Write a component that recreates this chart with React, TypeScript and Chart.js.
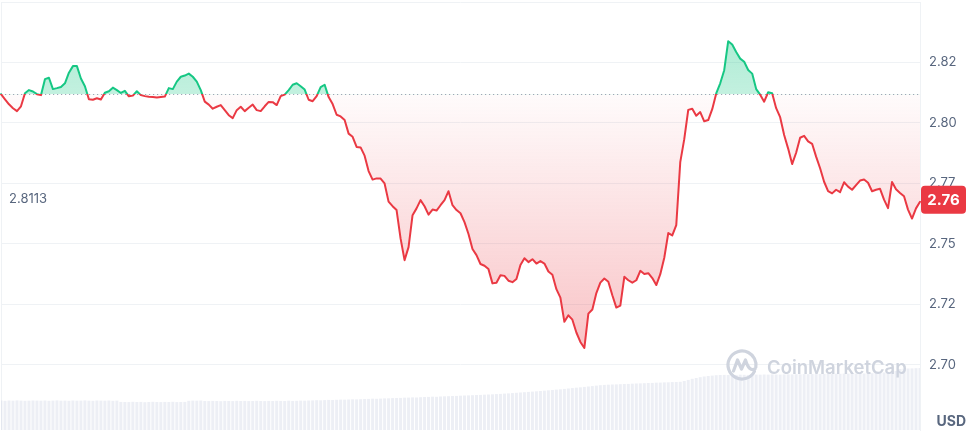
import React, { useEffect, useRef } from "react";
import { Chart, registerables } from "chart.js";

Chart.register(...registerables);

// Price samples (USD), evenly spaced in time
const PRICES: number[] = [
  2.8069, 2.8048, 2.8027, 2.8011, 2.7999, 2.8019, 2.8073, 2.8086, 2.808, 2.8069,
  2.8065, 2.8131, 2.8137, 2.809, 2.8094, 2.8099, 2.8114, 2.8158, 2.8185, 2.8185,
  2.8134, 2.8102, 2.8048, 2.8046, 2.8052, 2.8047, 2.8075, 2.8081, 2.8096, 2.8086,
  2.8074, 2.8083, 2.806, 2.8063, 2.8081, 2.8065, 2.8061, 2.8058, 2.8057, 2.8055,
  2.8057, 2.8059, 2.8094, 2.809, 2.8121, 2.8141, 2.8146, 2.8154, 2.8141, 2.8121,
  2.8086, 2.8038, 2.8026, 2.8009, 2.8017, 2.8024, 2.8003, 2.7982, 2.797, 2.8003,
  2.8017, 2.7999, 2.8013, 2.8026, 2.8003, 2.7999, 2.8019, 2.8037, 2.8036, 2.8024,
  2.8061, 2.8067, 2.8086, 2.8108, 2.8114, 2.8102, 2.8088, 2.8046, 2.804, 2.8061,
  2.8098, 2.8108, 2.8057, 2.8028, 2.7984, 2.7977, 2.7962, 2.7906, 2.7893, 2.7851,
  2.7849, 2.7815, 2.7751, 2.7716, 2.7721, 2.772, 2.77, 2.7625, 2.7606, 2.759,
  2.7473, 2.7383, 2.7437, 2.7569, 2.7597, 2.7631, 2.7606, 2.7571, 2.7592, 2.7588,
  2.761, 2.7631, 2.7668, 2.761, 2.759, 2.7577, 2.754, 2.7491, 2.7429, 2.7404,
  2.7367, 2.736, 2.7346, 2.7287, 2.729, 2.7321, 2.7318, 2.7298, 2.7292, 2.7305,
  2.7363, 2.7391, 2.7375, 2.7387, 2.7369, 2.7379, 2.7369, 2.7336, 2.7323, 2.7263,
  2.7228, 2.7128, 2.7155, 2.7137, 2.7084, 2.7045, 2.702, 2.7162, 2.7179, 2.7247,
  2.729, 2.7307, 2.7294, 2.7238, 2.7187, 2.7195, 2.7314, 2.73, 2.729, 2.73,
  2.7339, 2.7326, 2.7329, 2.7309, 2.728, 2.7325, 2.7393, 2.7495, 2.7485, 2.7528,
  2.7788, 2.7883, 2.8004, 2.8009, 2.798, 2.7995, 2.7957, 2.7962, 2.8007, 2.8072,
  2.8114, 2.8168, 2.8288, 2.8274, 2.8243, 2.8216, 2.8203, 2.8169, 2.8154, 2.809,
  2.8067, 2.8038, 2.8077, 2.8073, 2.8011, 2.7974, 2.79, 2.7844, 2.778, 2.7827,
  2.7889, 2.7897, 2.7874, 2.7864, 2.7811, 2.7763, 2.7707, 2.7668, 2.7659, 2.7674,
  2.7664, 2.7705, 2.7687, 2.7674, 2.7693, 2.7712, 2.7716, 2.7703, 2.7668, 2.7674,
  2.7678, 2.7633, 2.7598, 2.7706, 2.7676, 2.7661, 2.7647, 2.7592, 2.7555, 2.7597,
  2.7624,
];

// Volume samples (millions USD)
const VOLUMES: number[] = [
  29.4, 29.2, 29.5, 29.3, 29.6, 29.4, 29.2, 29.3, 29.5, 29.4,
  29.3, 29.5, 29.2, 29.4, 29.6, 29.3, 29.4, 29.2, 29.5, 29.3,
  29.4, 29.6, 29.3, 29.2, 29.5, 29.4, 29.3, 29.5, 29.2, 29.4,
  28.1, 28.0, 27.9, 28.2, 28.0, 28.1, 27.8, 28.0, 28.2, 28.0,
  27.9, 28.1, 28.0, 28.2, 27.9, 28.0, 28.1, 29.2, 29.4, 29.3,
  29.5, 29.0, 28.9, 29.1, 29.0, 28.8, 29.1, 29.0, 28.9, 29.2,
  29.0, 29.1, 28.9, 29.0, 29.2, 29.0, 28.9, 29.1, 29.0, 29.2,
  29.1, 29.0, 29.3, 29.1, 29.2, 29.4, 29.3, 29.5, 29.6, 29.8,
  29.7, 29.9, 30.1, 30.0, 30.2, 30.4, 30.3, 30.5, 30.7, 30.6,
  30.8, 31.0, 31.1, 31.3, 31.2, 31.4, 31.6, 31.7, 31.9, 32.0,
  32.1, 32.3, 32.4, 32.6, 32.5, 32.8, 33.0, 33.1, 33.3, 33.2,
  33.5, 33.7, 33.8, 34.0, 34.1, 34.3, 34.5, 34.6, 34.8, 35.0,
  35.1, 35.3, 35.5, 35.7, 35.9, 36.1, 36.4, 36.6, 36.9, 37.2,
  37.5, 37.8, 38.1, 38.4, 38.7, 39.0, 39.3, 39.7, 40.0, 40.4,
  40.7, 41.1, 41.5, 41.9, 42.3, 42.7, 43.1, 43.5, 43.9, 44.4,
  44.8, 45.1, 45.3, 45.5, 45.6, 45.8, 46.0, 46.1, 46.3, 46.5,
  46.6, 46.8, 47.0, 47.1, 47.3, 47.4, 47.6, 47.7, 47.9, 48.0,
  48.2, 49.0, 50.1, 51.2, 52.0, 52.8, 53.5, 54.0, 54.4, 54.8,
  55.0, 55.1, 55.0, 55.2, 55.1, 55.3, 55.2, 55.1, 55.3, 55.4,
  55.3, 55.5, 55.4, 55.6, 55.5, 55.4, 55.6, 55.7, 55.6, 55.8,
  55.7, 55.9, 55.8, 56.0, 55.9, 56.1, 56.0, 56.2, 56.1, 56.3,
  56.2, 56.4, 56.3, 56.5, 56.4, 56.6, 56.5, 56.7, 56.8, 57.0,
  57.2, 57.5, 57.8, 58.2, 59.0, 61.0, 61.3, 61.5, 61.6, 61.8,
  62.0,
];

const TIME_LABELS: string[] = PRICES.map((_, i) => {
  const mins = i * 6;
  const h = Math.floor(mins / 60) % 24;
  const m = mins % 60;
  return `${String(h).padStart(2, "0")}:${String(m).padStart(2, "0")}`;
});

const TICK_VALUES = [2.695, 2.72, 2.745, 2.77, 2.795, 2.82, 2.845];
const TICK_LABELS = ["2.70", "2.72", "2.75", "2.77", "2.80", "2.82", ""];
const REFERENCE_LABEL = "2.8113";
const CURRENCY = "USD";
const WATERMARK = "CoinMarketCap";
const BASELINE = PRICES[0];

const GREEN = "#16c784";
const RED = "#ea3943";
const TEXT = "#58667e";
const GRID = "#eff2f5";
const FONT = "Inter, 'Noto Sans', sans-serif";

function lineGradient(chart: any) {
  const { chartArea, scales } = chart;
  if (!chartArea || !scales || !scales.y) return RED;
  const yb = scales.y.getPixelForValue(BASELINE);
  const h = chartArea.bottom - chartArea.top;
  const t = Math.min(1, Math.max(0, (yb - chartArea.top) / h));
  const g = chart.ctx.createLinearGradient(0, chartArea.top, 0, chartArea.bottom);
  g.addColorStop(0, GREEN);
  g.addColorStop(t, GREEN);
  g.addColorStop(t, RED);
  g.addColorStop(1, RED);
  return g;
}

function fillOption(ctx: any) {
  const chart = ctx.chart;
  const { chartArea, scales } = chart;
  let above: any = "rgba(22,199,132,0.3)";
  let below: any = "rgba(234,57,67,0.12)";
  if (chartArea && scales && scales.y) {
    const yb = scales.y.getPixelForValue(BASELINE);
    const ymin = scales.y.getPixelForValue(Math.min(...PRICES));
    const ymax = scales.y.getPixelForValue(Math.max(...PRICES));
    const gb = chart.ctx.createLinearGradient(0, yb, 0, ymin);
    gb.addColorStop(0, "rgba(234,57,67,0.02)");
    gb.addColorStop(1, "rgba(234,57,67,0.3)");
    below = gb;
    const ga = chart.ctx.createLinearGradient(0, ymax, 0, yb);
    ga.addColorStop(0, "rgba(22,199,132,0.34)");
    ga.addColorStop(1, "rgba(22,199,132,0.26)");
    above = ga;
  }
  return { target: { value: BASELINE }, above, below };
}

const overlayPlugin = {
  id: "cmcOverlay",
  beforeDatasetsDraw(chart: any) {
    const { ctx, chartArea } = chart;
    ctx.save();
    // left border
    ctx.strokeStyle = GRID;
    ctx.lineWidth = 1;
    ctx.beginPath();
    ctx.moveTo(chartArea.left + 0.5, chartArea.top);
    ctx.lineTo(chartArea.left + 0.5, chartArea.bottom);
    ctx.stroke();
    // watermark
    const cx = chartArea.right - 178;
    const cy = chartArea.bottom - 65;
    const wm = "#cfd4de";
    ctx.strokeStyle = wm;
    ctx.lineWidth = 3.2;
    ctx.lineCap = "round";
    ctx.lineJoin = "round";
    ctx.beginPath();
    ctx.arc(cx, cy, 14, 0.15 * Math.PI, 2.05 * Math.PI);
    ctx.stroke();
    ctx.beginPath();
    ctx.moveTo(cx - 8.5, cy + 6);
    ctx.lineTo(cx - 4.5, cy - 5);
    ctx.lineTo(cx - 0.5, cy + 4);
    ctx.lineTo(cx + 3.5, cy - 5);
    ctx.quadraticCurveTo(cx + 7, cy + 7, cx + 13, cy + 4);
    ctx.stroke();
    ctx.fillStyle = wm;
    ctx.font = `600 18.5px ${FONT}`;
    ctx.textAlign = "left";
    ctx.textBaseline = "alphabetic";
    ctx.fillText(WATERMARK, cx + 25, cy + 9);
    ctx.restore();
  },
  beforeDatasetDraw(chart: any, args: any) {
    if (args.index !== 0) return;
    const { ctx, chartArea, scales } = chart;
    const y = Math.round(scales.y.getPixelForValue(BASELINE)) + 0.5;
    ctx.save();
    ctx.strokeStyle = "#9ea6b6";
    ctx.lineWidth = 1;
    ctx.setLineDash([1.2, 2.8]);
    ctx.beginPath();
    ctx.moveTo(chartArea.left, y);
    ctx.lineTo(chartArea.right, y);
    ctx.stroke();
    ctx.restore();
  },
  afterDraw(chart: any) {
    const { ctx, chartArea, scales, width, height } = chart;
    ctx.save();
    // reference label at left
    ctx.fillStyle = TEXT;
    ctx.font = `13px ${FONT}`;
    ctx.textAlign = "left";
    ctx.textBaseline = "middle";
    ctx.fillText(REFERENCE_LABEL, chartArea.left + 8, 199.5);
    // current price tag
    const last = PRICES[PRICES.length - 1];
    const y = scales.y.getPixelForValue(last) - 2;
    const x0 = chartArea.right + 1;
    const w = 45;
    const h = 28;
    ctx.fillStyle = RED;
    ctx.beginPath();
    if ((ctx as any).roundRect) {
      (ctx as any).roundRect(x0, y - h / 2, w, h, 4);
    } else {
      ctx.rect(x0, y - h / 2, w, h);
    }
    ctx.fill();
    ctx.fillStyle = "#ffffff";
    ctx.font = `bold 15px ${FONT}`;
    ctx.textAlign = "center";
    ctx.textBaseline = "middle";
    ctx.fillText(last.toFixed(2), x0 + w / 2, y + 1);
    // currency
    ctx.fillStyle = TEXT;
    ctx.font = `bold 14px ${FONT}`;
    ctx.textAlign = "right";
    ctx.textBaseline = "middle";
    ctx.fillText(CURRENCY, width - 2, height - 10.5);
    ctx.restore();
  },
};

export default function App() {
  const canvasRef = useRef<HTMLCanvasElement | null>(null);

  useEffect(() => {
    const canvas = canvasRef.current;
    if (!canvas) return;
    const chart = new Chart(canvas, {
      type: "line",
      data: {
        labels: TIME_LABELS,
        datasets: [
          {
            type: "line",
            label: "Price",
            data: PRICES,
            yAxisID: "y",
            borderColor: (ctx: any) => lineGradient(ctx.chart),
            borderWidth: 2,
            pointRadius: 0,
            pointHoverRadius: 0,
            tension: 0,
            borderJoinStyle: "round",
            borderCapStyle: "round",
            fill: fillOption as any,
            order: 1,
          } as any,
          {
            type: "bar",
            label: "Volume",
            data: VOLUMES,
            yAxisID: "yv",
            backgroundColor: "rgba(207,214,228,0.38)",
            borderWidth: 0,
            barPercentage: 0.75,
            categoryPercentage: 1,
            order: 2,
          } as any,
        ],
      },
      options: {
        responsive: true,
        maintainAspectRatio: false,
        animation: false,
        devicePixelRatio: 1,
        layout: { padding: { top: 2, bottom: 2, left: 0, right: 0 } },
        plugins: {
          legend: { display: false },
          tooltip: { enabled: false },
        },
        scales: {
          x: {
            type: "category",
            offset: false,
            display: false,
            grid: { display: false },
          },
          y: {
            position: "right",
            min: 2.6681,
            max: 2.845,
            afterBuildTicks: (scale: any) => {
              scale.ticks = TICK_VALUES.map((v) => ({ value: v }));
            },
            afterFit: (scale: any) => {
              scale.width = 48;
              scale.paddingTop = 0;
              scale.paddingBottom = 0;
            },
            ticks: {
              padding: 9,
              color: TEXT,
              font: { family: FONT, size: 13 },
              autoSkip: false,
              callback: (_v: any, i: number) => TICK_LABELS[i],
            },
            grid: { color: GRID, drawTicks: false, lineWidth: 1 },
            border: { display: true, color: GRID },
          },
          yv: {
            display: false,
            min: 0,
            max: 428,
          },
        },
      } as any,
      plugins: [overlayPlugin],
    });
    chart.update();
    return () => chart.destroy();
  }, []);

  return (
    <div
      style={{
        position: "fixed",
        left: 0,
        top: 0,
        width: 968,
        height: 432,
        background: "#ffffff",
      }}
    >
      <canvas ref={canvasRef} />
    </div>
  );
}
